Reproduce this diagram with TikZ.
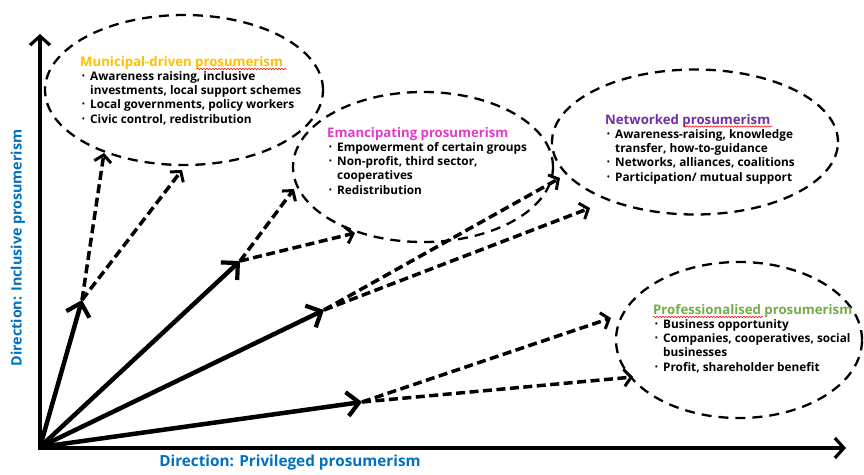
\documentclass[tikz,border=0pt]{standalone}
\usepackage{fontspec}
\usepackage{graphicx}
\setmainfont{Open Sans}
\usetikzlibrary{arrows.meta,shapes.geometric,decorations.pathmorphing}

\definecolor{municol}{HTML}{FFC000}
\definecolor{emancol}{HTML}{E03CC8}
\definecolor{netcol}{HTML}{7030A0}
\definecolor{profcol}{HTML}{70AD47}
\definecolor{axisblue}{HTML}{0070C0}

% bullet with hanging indent for the list lines
\newcommand\bul{\hspace*{2pt}\makebox[8pt][l]{\raisebox{0.3ex}{\scalebox{0.6}{\textbullet}}}}
\newcommand\cont{\hspace*{10pt}}

\tikzset{
  axisline/.style={line width=3.5pt, -{Straight Barb[length=9pt,width=20pt,line width=3.2pt]}},
  mainarrow/.style={line width=4.5pt, -{Straight Barb[length=12pt,width=24pt,line width=4.2pt]}},
  dasharrow/.style={line width=3.5pt, dash pattern=on 9pt off 4.5pt,
                    -{Straight Barb[length=7pt,width=17pt,line width=3pt]}},
  zone/.style={ellipse, draw, line width=2.3pt, dash pattern=on 10pt off 7pt, inner sep=0pt},
  zonetitle/.style={anchor=base west, inner sep=0pt, font=\fontsize{13.2}{15}\selectfont\bfseries},
  listtext/.style={anchor=north west, inner sep=0pt, align=left,
                   font=\fontsize{11.8}{14.3}\selectfont\bfseries},
  axislabel/.style={text=axisblue, inner sep=0pt, font=\bfseries},
  spell/.style={draw=red, line width=0.5pt,
                decorate, decoration={snake, amplitude=0.8pt, segment length=3pt}}
}

\begin{document}
\begin{tikzpicture}[x=1pt,y=-1pt]
\useasboundingbox (0,0) rectangle (864,474);

% zones
\node[zone, minimum width=278pt, minimum height=150pt] (muni) at (184,90) {};
\node[zone, minimum width=260pt, minimum height=150pt] (eman) at (423,167) {};
\node[zone, minimum width=286pt, minimum height=145pt] (netw) at (695,142) {};
\node[zone, minimum width=246pt, minimum height=156pt] (prof) at (739,340) {};

% zone titles
\node[zonetitle, text=municol] (mutitle) at (80,66) {Municipal-driven prosumerism};
\node[zonetitle, text=emancol] (emtitle) at (327,137.5) {Emancipating prosumerism};
\node[zonetitle, text=netcol] (nettitle) at (605,124) {Networked prosumerism};
\node[zonetitle, text=profcol] (proftitle) at (653,314) {Professionalised prosumerism};

% zone lists
\node[listtext] (mutext) at (80,71) {%
  \bul Awareness raising, inclusive\\
  \cont investments, local support schemes\\
  \bul Local governments, policy workers\\
  \bul Civic control, redistribution};
\node[listtext] (emtext) at (327,142) {%
  \bul Empowerment of certain groups\\
  \bul Non-profit, third sector,\\
  \cont cooperatives\\
  \bul Redistribution};
\node[listtext] (nettext) at (605,129) {%
  \bul Awareness-raising, knowledge\\
  \cont transfer, how-to-guidance\\
  \bul Networks, alliances, coalitions\\
  \bul Participation/ mutual support};
\node[listtext] (proftext) at (653,319) {%
  \bul Business opportunity\\
  \bul Companies, cooperatives, social\\
  \cont businesses\\
  \bul Profit, shareholder benefit};

% spell-check squiggles
\draw[spell] (197,69) -- (287,69);
\draw[spell] (683,126.5) -- (772,126.5);
\draw[spell] (653,317) -- (763,317);

% axes
\coordinate (O) at (40,447);
\coordinate (ytop) at (40,34);
\coordinate (xend) at (846,448);
\coordinate (ybase) at (40,450);
\coordinate (xbase) at (38,448);
\draw[axisline] (ybase) -- (ytop);
\draw[axisline] (xbase) -- (xend);

% main directions
\coordinate (a1) at (82,300);
\coordinate (a2) at (240,261);
\coordinate (a3) at (324,310);
\coordinate (a4) at (362,402);
\foreach \p in {a1,a2,a3,a4} \draw[mainarrow] (O) -- (\p);

% dashed continuations into the zones
\coordinate (b11) at (104,153);
\coordinate (b12) at (182,170);
\coordinate (b21) at (294,189);
\coordinate (b22) at (355,233);
\coordinate (b31) at (560,178);
\coordinate (b32) at (590,208);
\coordinate (b41) at (611,318);
\coordinate (b42) at (633,377);
\draw[dasharrow] (a1) -- (b11);
\draw[dasharrow] (a1) -- (b12);
\draw[dasharrow] (a2) -- (b21);
\draw[dasharrow] (a2) -- (b22);
\draw[dasharrow] (a3) -- (b31);
\draw[dasharrow] (a3) -- (b32);
\draw[dasharrow] (a4) -- (b41);
\draw[dasharrow] (a4) -- (b42);

% axis labels
\node[axislabel, rotate=90, font=\fontsize{14.3}{16}\selectfont\bfseries] (ylab) at (18,248) {Direction: Inclusive prosumerism};
\node[axislabel, font=\fontsize{15.3}{17}\selectfont\bfseries] (xlab) at (290,463) {Direction: Privileged prosumerism};
\end{tikzpicture}
\end{document}
